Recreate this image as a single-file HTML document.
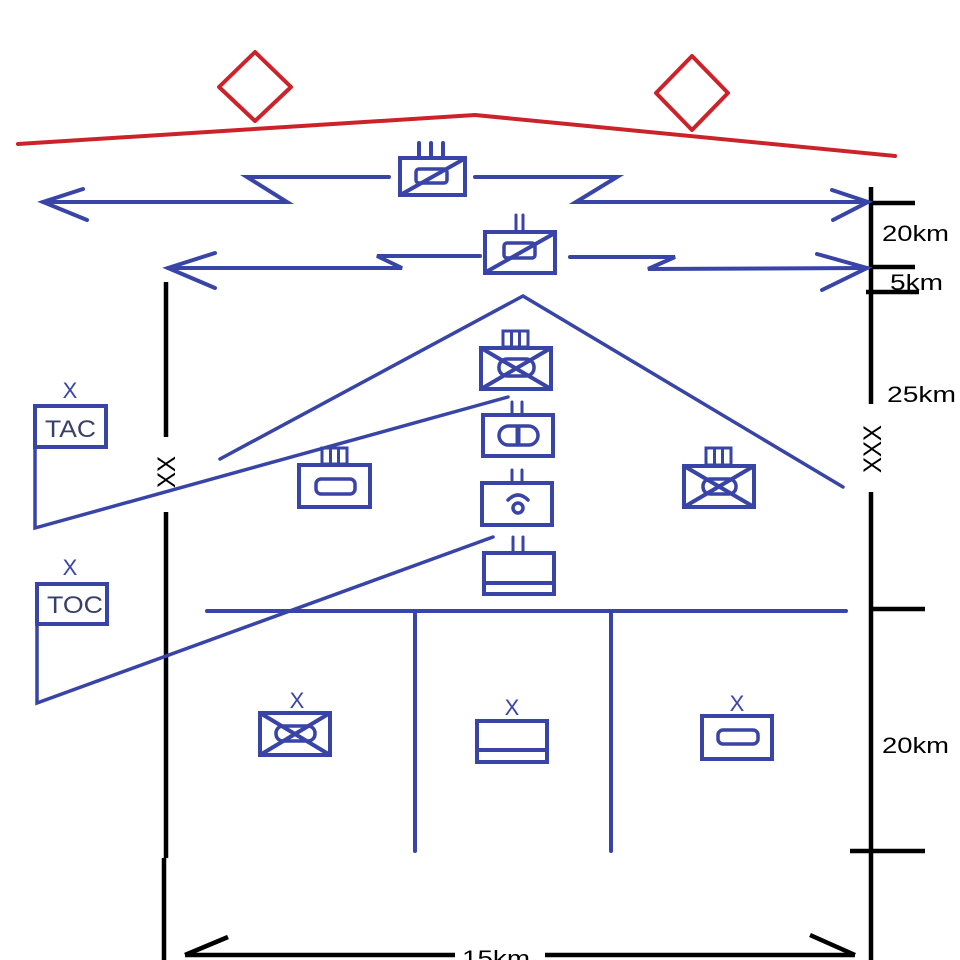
<!DOCTYPE html>
<html>
<head>
<meta charset="utf-8">
<style>
html,body{margin:0;padding:0;background:#ffffff;}
svg{display:block;}
text{font-family:"Liberation Sans",sans-serif;}
</style>
</head>
<body>
<svg width="960" height="960" viewBox="0 0 960 960" xmlns="http://www.w3.org/2000/svg">
<rect width="960" height="960" fill="#ffffff"/>

<!-- red line and diamonds -->
<g fill="none" stroke="#cc2229" stroke-width="4" stroke-linejoin="round" stroke-linecap="round">
  <path d="M18,144 L475,115 L895,156"/>
  <path d="M255,52 L291,87 L255,121 L219,87 Z"/>
  <path d="M692,56 L728,93 L692,130 L656,93 Z"/>
</g>

<!-- black scale lines -->
<g fill="none" stroke="#000" stroke-width="4.5">
  <line x1="871" y1="187" x2="871" y2="404"/>
  <line x1="871" y1="492" x2="871" y2="960"/>
  <line x1="869" y1="203" x2="915" y2="203"/>
  <line x1="869" y1="267" x2="915" y2="267"/>
  <line x1="866" y1="292" x2="919" y2="292"/>
  <line x1="869" y1="609" x2="925" y2="609"/>
  <line x1="850" y1="851" x2="925" y2="851"/>
  <line x1="166" y1="282" x2="166" y2="437"/>
  <line x1="166" y1="512" x2="166" y2="858"/>
  <line x1="164" y1="858" x2="164" y2="960"/>
  <line x1="185" y1="955" x2="455" y2="955"/>
  <line x1="545" y1="955" x2="855" y2="955"/>
  <line x1="185" y1="955" x2="228" y2="937"/>
  <line x1="855" y1="955" x2="810" y2="935"/>
</g>
<g fill="#000" font-size="22">
  <text x="882" y="241" textLength="67" lengthAdjust="spacingAndGlyphs">20km</text>
  <text x="890" y="290" textLength="53" lengthAdjust="spacingAndGlyphs">5km</text>
  <text x="887" y="402" textLength="69" lengthAdjust="spacingAndGlyphs">25km</text>
  <text x="882" y="753" textLength="67" lengthAdjust="spacingAndGlyphs">20km</text>
  <text x="462" y="966" textLength="68" lengthAdjust="spacingAndGlyphs">15km</text>
  <text x="0" y="0" font-size="25" text-anchor="middle" transform="translate(175,472) rotate(-90)" textLength="32" lengthAdjust="spacingAndGlyphs">XX</text>
  <text x="0" y="0" font-size="25" text-anchor="middle" transform="translate(881,449) rotate(-90)" textLength="48" lengthAdjust="spacingAndGlyphs">XXX</text>
</g>

<!-- blue content -->
<g fill="none" stroke="#3844a6" stroke-width="4" stroke-linejoin="miter" stroke-linecap="round">
  <!-- arrow 1 -->
  <path d="M83,189 L43,202 L87,220"/>
  <path d="M43,202 L287,202 L247,177 L389,177"/>
  <path d="M475,177 L617,177 L576,202 L868,202"/>
  <path d="M832,190 L868,202 L833,220"/>
  <!-- arrow 2 -->
  <path d="M215,253 L168,268 L215,288"/>
  <path d="M168,268 L402,268 L377,256 L480,256"/>
  <path d="M570,257 L675,257 L648,269 L867,268"/>
  <path d="M817,254 L867,268 L822,290"/>

  <!-- roof -->
  <path d="M220,459 L523,296 L843,487" stroke-width="3.5"/>
  <!-- TAC / TOC connectors -->
  <path d="M35,448 L35,528 L508,397" stroke-width="3.5"/>
  <path d="M37,625 L37,703 L493,537" stroke-width="3.5"/>
  <!-- TAC / TOC boxes -->
  <rect x="35" y="406" width="71" height="41"/>
  <rect x="37" y="584" width="70" height="40"/>

  <!-- horizontal + verticals -->
  <line x1="207" y1="611" x2="846" y2="611"/>
  <line x1="415" y1="611" x2="415" y2="851"/>
  <line x1="611" y1="611" x2="611" y2="851"/>

  <!-- top box 1 -->
  <rect x="400" y="158" width="65" height="37"/>
  <line x1="419" y1="143" x2="419" y2="157"/>
  <line x1="431" y1="143" x2="431" y2="157"/>
  <line x1="443" y1="143" x2="443" y2="157"/>
  <rect x="416" y="169" width="31" height="14" rx="3" stroke-width="3.5"/>
  <line x1="402" y1="194" x2="464" y2="159"/>

  <!-- top box 2 -->
  <rect x="485" y="232" width="70" height="41"/>
  <line x1="516" y1="215" x2="516" y2="231" stroke-width="3"/>
  <line x1="523" y1="215" x2="523" y2="231" stroke-width="3"/>
  <rect x="504" y="243" width="31" height="15" rx="3" stroke-width="3.5"/>
  <line x1="486" y1="272" x2="555" y2="233"/>

  <!-- box A -->
  <rect x="481" y="348" width="70" height="41"/>
  <rect x="503" y="331" width="25" height="16" stroke-width="3"/>
  <line x1="511.5" y1="331" x2="511.5" y2="347" stroke-width="3"/>
  <line x1="519.5" y1="331" x2="519.5" y2="347" stroke-width="3"/>
  <line x1="481" y1="348" x2="551" y2="389"/>
  <line x1="481" y1="389" x2="551" y2="348"/>
  <rect x="499" y="359" width="35" height="17" rx="8" stroke-width="3.5"/>

  <!-- box B -->
  <rect x="483" y="415" width="70" height="41"/>
  <line x1="512" y1="402" x2="512" y2="414" stroke-width="3"/>
  <line x1="522" y1="402" x2="522" y2="414" stroke-width="3"/>
  <rect x="499" y="426" width="39" height="19" rx="9.5" stroke-width="3.5"/>
  <line x1="518" y1="427" x2="518" y2="444" stroke-width="5"/>

  <!-- box C -->
  <rect x="482" y="483" width="70" height="42"/>
  <line x1="512" y1="470" x2="512" y2="482" stroke-width="3"/>
  <line x1="522" y1="470" x2="522" y2="482" stroke-width="3"/>
  <circle cx="518" cy="508" r="5" stroke-width="3.5"/>
  <path d="M508,500 Q518,490 528,500" stroke-width="3.5"/>

  <!-- box D -->
  <rect x="484" y="553" width="70" height="41"/>
  <line x1="484" y1="583" x2="554" y2="583"/>
  <line x1="513" y1="537" x2="513" y2="552" stroke-width="3"/>
  <line x1="523" y1="537" x2="523" y2="552" stroke-width="3"/>

  <!-- box E -->
  <rect x="299" y="465" width="71" height="42"/>
  <rect x="322" y="448" width="25" height="16" stroke-width="3"/>
  <line x1="330.5" y1="448" x2="330.5" y2="464" stroke-width="3"/>
  <line x1="338.5" y1="448" x2="338.5" y2="464" stroke-width="3"/>
  <rect x="316" y="479" width="39" height="15" rx="5" stroke-width="3.5"/>

  <!-- box F -->
  <rect x="684" y="466" width="70" height="41"/>
  <rect x="706" y="448" width="25" height="17" stroke-width="3"/>
  <line x1="714.5" y1="448" x2="714.5" y2="465" stroke-width="3"/>
  <line x1="722.5" y1="448" x2="722.5" y2="465" stroke-width="3"/>
  <line x1="684" y1="466" x2="754" y2="507"/>
  <line x1="684" y1="507" x2="754" y2="466"/>
  <rect x="703" y="479" width="33" height="15" rx="7" stroke-width="3.5"/>

  <!-- box G -->
  <rect x="260" y="713" width="70" height="42"/>
  <line x1="260" y1="713" x2="330" y2="755"/>
  <line x1="260" y1="755" x2="330" y2="713"/>
  <rect x="276" y="726" width="39" height="15" rx="7" stroke-width="3.5"/>

  <!-- box H -->
  <rect x="477" y="721" width="70" height="41"/>
  <line x1="477" y1="750" x2="547" y2="750"/>

  <!-- box I -->
  <rect x="702" y="716" width="70" height="43"/>
  <rect x="718" y="730" width="40" height="14" rx="5" stroke-width="3.5"/>
</g>

<!-- blue text -->
<g fill="#3844a6" font-size="22" text-anchor="middle">
  <text x="70" y="398">X</text>
  <text x="70" y="575">X</text>
  <text x="297" y="708">X</text>
  <text x="512" y="715">X</text>
  <text x="737" y="711">X</text>
</g>
<g fill="#3a3f6a" font-size="24">
  <text x="45" y="437" textLength="51" lengthAdjust="spacingAndGlyphs">TAC</text>
  <text x="47" y="613" textLength="56" lengthAdjust="spacingAndGlyphs">TOC</text>
</g>
</svg>
</body>
</html>
